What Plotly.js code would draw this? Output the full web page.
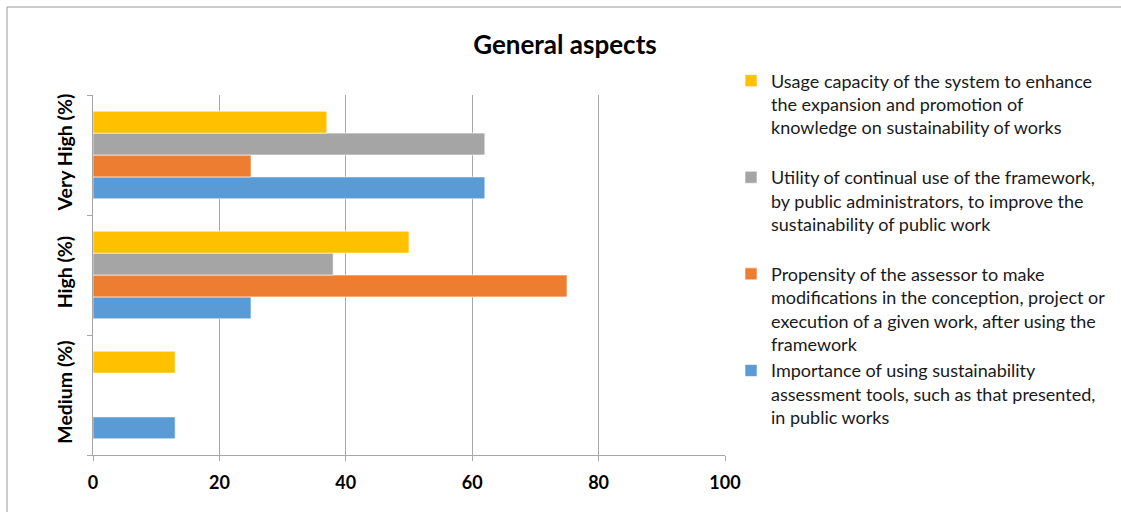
<!DOCTYPE html>
<html>
<head>
<meta charset="utf-8">
<script src="https://cdn.plot.ly/plotly-3.0.1.min.js"></script>
<style>
  html, body { margin: 0; padding: 0; background: #ffffff; }
  #chart { width: 1121px; height: 512px; }
</style>
</head>
<body>
<div id="chart"></div>
<script>
// Response levels, bottom to top
const levels = ['Medium (%)', 'High (%)', 'Very High (%)'];

// Share of answers per level for each general aspect
const importanceValues = [13, 25, 62];
const propensityValues = [0, 75, 25];
const utilityValues = [0, 38, 62];
const usageValues = [13, 50, 37];

const seriesNames = [
  'Importance of using sustainability<br>assessment tools, such as that presented,<br>in public works',
  'Propensity of the assessor to make<br>modifications in the conception, project or<br>execution of a given work, after using the<br>framework',
  'Utility of continual use of the framework,<br>by public administrators, to improve the<br>sustainability of public work<br> ',
  'Usage capacity of the system to enhance<br>the expansion and promotion of<br>knowledge on sustainability of works<br> '
];
const seriesColors = ['#5B9BD5', '#ED7D31', '#A5A5A5', '#FFC000'];
const seriesValues = [importanceValues, propensityValues, utilityValues, usageValues];

const traces = seriesValues.map((vals, i) => ({
  type: 'bar',
  orientation: 'h',
  y: levels,
  x: vals,
  name: seriesNames[i],
  marker: { color: seriesColors[i], line: { color: 'rgba(255,255,255,0.6)', width: 1 } },
  hoverinfo: 'x+name'
}));

const gridGray = '#A6A6A6';
const font = 'Lato, "Open Sans", sans-serif';

const layout = {
  width: 1121,
  height: 512,
  margin: { l: 93, r: 396, t: 95, b: 57 },
  paper_bgcolor: '#ffffff',
  plot_bgcolor: '#ffffff',
  barmode: 'group',
  bargap: 0.27,
  bargroupgap: 0,
  showlegend: true,
  font: { family: font, color: '#000000' },
  title: {
    text: '<b>General aspects</b>',
    font: { family: font, size: 26, color: '#000000' },
    xref: 'container', x: 0.504, xanchor: 'center',
    yref: 'container', y: 0.912, yanchor: 'middle'
  },
  xaxis: {
    range: [0, 100],
    dtick: 20,
    tick0: 0,
    showgrid: true,
    gridcolor: gridGray,
    gridwidth: 1,
    showline: true,
    linecolor: gridGray,
    linewidth: 1,
    ticks: 'outside',
    ticklen: 5,
    tickcolor: gridGray,
    zeroline: false,
    ticklabelstandoff: 6,
    tickfont: { family: font, size: 18, color: '#000000', weight: 'bold' },
    fixedrange: true
  },
  yaxis: {
    type: 'category',
    categoryorder: 'array',
    categoryarray: levels,
    showgrid: false,
    showline: true,
    linecolor: gridGray,
    linewidth: 1,
    ticks: 'outside',
    tickson: 'boundaries',
    ticklen: 5,
    tickcolor: gridGray,
    tickangle: -90,
    ticklabelstandoff: 12,
    tickfont: { family: font, size: 19.5, color: '#000000', weight: 'bold' },
    fixedrange: true
  },
  legend: {
    xref: 'container', x: 0.6521, xanchor: 'left',
    yref: 'container', y: 0.878, yanchor: 'top',
    maxheight: 480,
    traceorder: 'reversed',
    valign: 'top',
    font: { family: font, size: 18, color: '#1a1a1a' },
    itemclick: false,
    itemdoubleclick: false,
    tracegroupgap: 0,
    bgcolor: 'rgba(0,0,0,0)'
  },
  shapes: [
    // chart frame: top and left edges
    { type: 'line', xref: 'paper', yref: 'paper', x0: -0.1361, x1: 1.7, y0: 1.2444, y1: 1.2444,
      line: { color: '#9A9A9A', width: 1 } },
    { type: 'line', xref: 'paper', yref: 'paper', x0: -0.1361, x1: -0.1361, y0: -0.3, y1: 1.2444,
      line: { color: '#9A9A9A', width: 1 } }
  ]
};

Plotly.newPlot('chart', traces, layout, { displayModeBar: false, staticPlot: true });
</script>
</body>
</html>
